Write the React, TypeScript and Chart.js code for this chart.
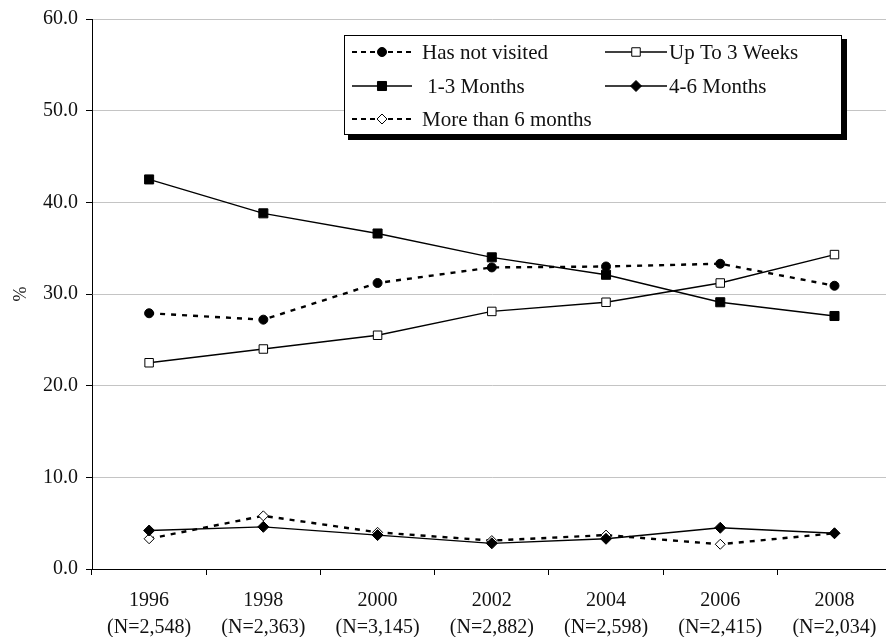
import React, { useEffect, useRef } from 'react';
import { Chart, registerables } from 'chart.js';

Chart.register(...registerables);

// ---- data ----
const years = ['1996', '1998', '2000', '2002', '2004', '2006', '2008'];
const sampleSizes = ['(N=2,548)', '(N=2,363)', '(N=3,145)', '(N=2,882)', '(N=2,598)', '(N=2,415)', '(N=2,034)'];
const seriesNames = ['Has not visited', 'Up To 3 Weeks', ' 1-3 Months', '4-6 Months', 'More than 6 months'];
const hasNotVisited = [27.9, 27.2, 31.2, 32.9, 33.0, 33.3, 30.9];
const upTo3Weeks = [22.5, 24.0, 25.5, 28.1, 29.1, 31.2, 34.3];
const oneToThreeMonths = [42.5, 38.8, 36.6, 34.0, 32.1, 29.1, 27.6];
const fourToSixMonths = [4.2, 4.6, 3.7, 2.8, 3.3, 4.5, 3.9];
const moreThanSixMonths = [3.3, 5.8, 4.0, 3.1, 3.7, 2.7, 3.9];
const yMin = 0;
const yMax = 60;
const yStep = 10;
const yTitle = '%';

const FONT = '"Liberation Serif", "Times New Roman", serif';
const TEXT = '#111';

// legend slot layout (x of line start, row centre y, line length, text x)
const legendSlots = [
  { x: 352, y: 52, len: 60, tx: 422 },
  { x: 605, y: 52, len: 62, tx: 669 },
  { x: 352, y: 86, len: 60, tx: 422 },
  { x: 605, y: 86, len: 62, tx: 669 },
  { x: 352, y: 119, len: 60, tx: 422 },
];

function drawMarker(ctx: CanvasRenderingContext2D, style: string, x: number, y: number, r: number, fill: string) {
  ctx.beginPath();
  if (style === 'circle') {
    ctx.arc(x, y, r, 0, Math.PI * 2);
  } else if (style === 'rect') {
    const s = r * Math.SQRT1_2;
    ctx.rect(x - s, y - s, 2 * s, 2 * s);
  } else {
    ctx.moveTo(x - r, y);
    ctx.lineTo(x, y - r);
    ctx.lineTo(x + r, y);
    ctx.lineTo(x, y + r);
    ctx.closePath();
  }
  ctx.fillStyle = fill;
  ctx.fill();
  ctx.setLineDash([]);
  ctx.lineWidth = 1;
  ctx.strokeStyle = '#000';
  ctx.stroke();
}

const boxLegend = {
  id: 'boxLegend',
  afterDraw(chart: any) {
    const ctx: CanvasRenderingContext2D = chart.ctx;
    ctx.save();
    // shadow
    ctx.fillStyle = '#000';
    ctx.fillRect(348, 39, 499, 101);
    // box
    ctx.fillStyle = '#fff';
    ctx.fillRect(344, 35, 498, 100);
    ctx.strokeStyle = '#000';
    ctx.lineWidth = 1;
    ctx.strokeRect(344.5, 35.5, 497, 99);
    chart.data.datasets.forEach((ds: any, i: number) => {
      const slot = legendSlots[i];
      if (!slot) return;
      ctx.beginPath();
      ctx.setLineDash(ds.borderDash && ds.borderDash.length ? [5, 4] : []);
      ctx.lineWidth = ds.borderDash && ds.borderDash.length ? 2.2 : 1.3;
      ctx.strokeStyle = '#000';
      ctx.moveTo(slot.x, slot.y);
      ctx.lineTo(slot.x + slot.len, slot.y);
      ctx.stroke();
      drawMarker(ctx, ds.pointStyle, slot.x + slot.len / 2, slot.y, ds.pointRadius, ds.pointBackgroundColor);
      ctx.fillStyle = TEXT;
      ctx.font = `21px ${FONT}`;
      ctx.textAlign = 'left';
      ctx.textBaseline = 'middle';
      ctx.fillText(ds.label, slot.tx, slot.y + 1);
    });
    ctx.restore();
  },
};

export default function App() {
  const ref = useRef<HTMLCanvasElement | null>(null);

  useEffect(() => {
    if (!ref.current) return;
    const dashed = [5, 6];
    const chart = new Chart(ref.current, {
      type: 'line',
      data: {
        labels: years.map((y, i) => [y, sampleSizes[i]]),
        datasets: [
          {
            label: seriesNames[0], data: hasNotVisited, borderColor: '#000', borderWidth: 2.4, borderDash: dashed,
            pointStyle: 'circle', pointRadius: 4.5, pointBackgroundColor: '#000', pointBorderColor: '#000', pointBorderWidth: 1,
            tension: 0, fill: false,
          },
          {
            label: seriesNames[1], data: upTo3Weeks, borderColor: '#000', borderWidth: 1.3,
            pointStyle: 'rect', pointRadius: 6, pointBackgroundColor: '#fff', pointBorderColor: '#000', pointBorderWidth: 1,
            tension: 0, fill: false,
          },
          {
            label: seriesNames[2], data: oneToThreeMonths, borderColor: '#000', borderWidth: 1.3,
            pointStyle: 'rect', pointRadius: 6.4, pointBackgroundColor: '#000', pointBorderColor: '#000', pointBorderWidth: 1,
            tension: 0, fill: false,
          },
          {
            label: seriesNames[3], data: fourToSixMonths, borderColor: '#000', borderWidth: 1.3,
            pointStyle: 'rectRot', pointRadius: 5.5, pointBackgroundColor: '#000', pointBorderColor: '#000', pointBorderWidth: 1,
            tension: 0, fill: false,
          },
          {
            label: seriesNames[4], data: moreThanSixMonths, borderColor: '#000', borderWidth: 2.4, borderDash: dashed,
            pointStyle: 'rectRot', pointRadius: 5, pointBackgroundColor: '#fff', pointBorderColor: '#000', pointBorderWidth: 1,
            tension: 0, fill: false,
          },
        ],
      },
      options: {
        responsive: false,
        animation: false,
        events: [],
        layout: { padding: { top: 19, right: 2, left: 0, bottom: 0 } },
        plugins: {
          legend: { display: false },
          tooltip: { enabled: false },
        },
        scales: {
          x: {
            type: 'category',
            offset: true,
            grid: { offset: true, drawOnChartArea: false, drawTicks: true, tickLength: 6, tickColor: '#000', lineWidth: 1 },
            border: { display: true, color: '#000', width: 1 },
            ticks: {
              color: TEXT, padding: 12, maxRotation: 0, autoSkip: false,
              font: { family: FONT, size: 20, lineHeight: '27px' },
            },
            afterFit: (scale: any) => {
              scale.height = 68;
              scale.paddingLeft = 0;
              scale.paddingRight = 0;
            },
          },
          y: {
            min: yMin, max: yMax,
            grid: {
              color: (c: any) => (c.tick && c.tick.value === 0 ? '#000' : '#c4c4c4'),
              tickColor: '#000', tickLength: 6, drawTicks: true, lineWidth: 1,
            },
            border: { display: true, color: '#000', width: 1 },
            ticks: {
              stepSize: yStep, color: TEXT, padding: 8,
              font: { family: FONT, size: 20 },
              callback: (v: any) => Number(v).toFixed(1),
            },
            title: {
              display: true, text: yTitle, color: TEXT,
              font: { family: FONT, size: 18 }, padding: { top: 10, bottom: 0 },
            },
            afterFit: (scale: any) => {
              scale.width = 92;
              scale.paddingTop = 0;
              scale.paddingBottom = 0;
            },
          },
        },
      },
      plugins: [boxLegend],
    });
    return () => chart.destroy();
  }, []);

  return (
    <div style={{ position: 'fixed', left: 0, top: 0, width: 886, height: 637, overflow: 'hidden', background: '#fff' }}>
      <canvas ref={ref} width={899} height={637} style={{ width: 899, height: 637, display: 'block' }} />
    </div>
  );
}
